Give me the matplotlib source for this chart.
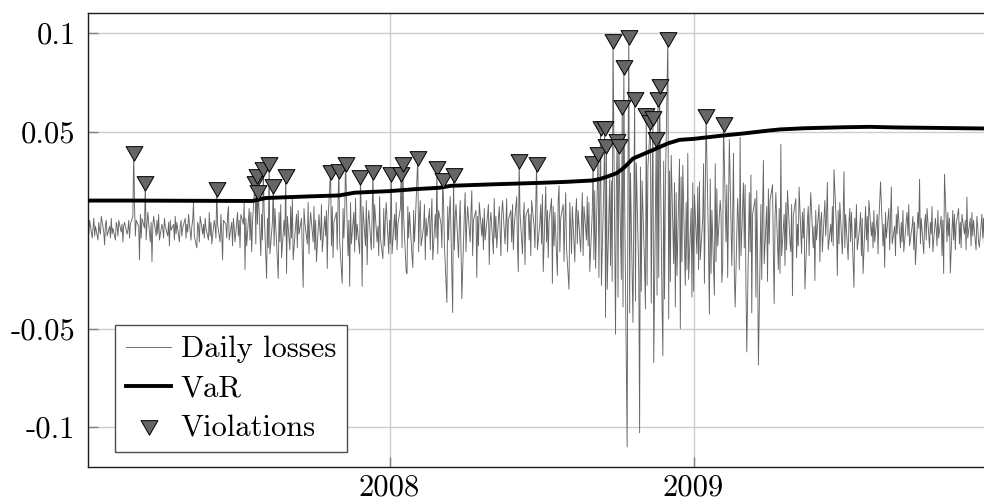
import numpy as np
import pandas as pd
import matplotlib
matplotlib.use("Agg")
import matplotlib.pyplot as plt

# daily losses in percent, one value per business day from 2007-01-03
losses_pct = [
    0.3, -0.2, 0.5, -0.4, 0.1, 0.6, -0.3, 0.2, -0.5, 0.4, 0.0, -0.2, 0.7, -0.1, -0.75, 0.3, 0.5, -0.3, 0.2, -0.4,
    0.6, -0.2, 0.1, -0.5, 0.4, 0.2, -0.3, 0.5, -0.1, 0.3, -0.6, 0.2, 0.4, -0.2, 0.0, 0.5, -0.4, 0.3, 0.7, 4.0,
    1.3, -0.3, 0.5, 0.2, -1.5, 0.8, -0.4, 0.6, 0.1, 2.5, -0.5, 0.3, 0.9, -0.6, 0.4, -1.6, 0.2, 0.7, -0.3, 0.5,
    -0.2, 0.8, -0.5, 0.3, 0.1, -0.4, 0.6, 0.2, -0.3, 0.4, -0.8, 0.5, 0.0, 0.3, -0.5, 0.7, -0.2, 0.4, -0.6, 0.2,
    0.5, -0.3, 0.1, 0.6, -0.4, 0.3, -0.1, 0.8, -0.5, 0.2, 0.5, 1.4, -0.3, -0.9, 0.4, 0.2, -0.6, 0.7, -0.2, 0.3,
    -0.4, 0.6, 0.1, -0.5, 0.9, -0.3, 0.4, -0.7, 0.5, 0.2, -0.4, 2.2, 0.3, -0.6, 0.8, -0.2, -1.5, 0.5, 0.3, -0.4,
    0.7, 1.2, -0.5, 0.4, -0.8, 0.6, 0.1, -0.6, 0.9, -0.3, 0.5, -0.9, 0.8, 0.3, 1.4, -2.0, 0.6, -0.8, 1.1, -0.5,
    0.9, -1.1, 0.4, 2.5, -0.7, 2.86, 0.3, 2.05, -1.3, 0.8, -0.5, 3.2, 1.0, -2.45, 0.6, -0.9, 3.45, -1.2, 0.4, 2.32,
    -0.8, 1.1, 0.2, -2.45, 0.9, -0.6, 1.3, -1.4, 0.5, -0.3, 2.86, -2.2, 0.7, -1.0, 1.2, -0.4, 1.6, -1.5, 0.3, 0.8,
    -0.9, 1.0, -0.2, 0.6, -1.3, -2.9, 1.1, 0.4, -0.7, 1.4, -1.2, 0.2, 0.9, -0.6, 1.2, -1.0, 0.5, -1.6, 0.8, 0.1,
    -0.5, 1.3, -1.1, 0.7, -0.3, 1.0, -1.95, 0.6, 3.03, -0.8, 1.2, -1.4, 0.4, 0.9, -1.0, 1.5, 3.12, -0.6, -2.7, 1.1,
    -0.4, 0.8, 3.45, -1.3, 0.5, -2.85, 1.4, -0.7, 0.9, -1.1, 1.6, -0.5, 0.3, -1.2, 2.78, 0.6, -2.85, 1.2, -0.8, 1.5,
    -1.75, 0.4, 1.0, -1.0, 0.7, 3.03, -0.9, 1.3, -0.6, 0.2, -1.3, 1.7, -0.4, -1.45, 1.1, -0.8, 0.6, 1.4, -1.2, 0.5,
    -0.7, 2.95, -1.2, 0.8, -0.5, 1.4, -1.0, 0.3, 1.1, 2.95, -0.9, 3.45, 0.6, -2.1, -2.2, 1.2, -0.4, 0.9, -1.3, -1.9,
    1.0, -0.6, 0.4, 3.74, -1.1, 0.7, 1.5, -0.8, 0.2, 1.3, -1.5, 0.6, -0.3, 1.1, -1.0, 0.5, 1.6, -1.5, 0.8, -0.4,
    3.23, -1.2, 1.0, 0.3, -0.9, 2.66, 1.4, -0.7, -3.67, 1.2, -0.5, 0.9, 1.7, -4.18, 2.91, -1.0, 0.6, 1.3, -1.4, 0.2,
    1.5, -0.9, -3.48, 0.8, 1.9, -1.1, 0.4, 1.2, -0.6, 0.9, 2.0, -1.3, 0.5, 1.0, -2.4, 0.7, -0.8, 1.4, -0.3, 0.6,
    -1.0, 1.1, -0.5, 0.8, 1.3, -1.75, 0.4, 0.9, -1.2, 1.6, -0.4, 0.7, -0.9, 1.2, 0.1, -1.3, 0.8, 1.5, -0.7, 0.3,
    1.6, -1.1, 0.5, 1.0, -0.6, 1.3, -1.0, 0.2, 1.7, -0.8, -2.1, 3.59, 0.9, -1.2, 0.6, 1.4, -1.75, 0.7, 1.1, -0.5,
    0.8, -1.3, 1.5, 0.2, -0.9, 1.2, 3.45, -1.0, 0.4, 1.3, -0.7, 1.8, -2.1, 2.2, -0.6, 1.0, -1.4, 0.5, 1.6, -2.7,
    1.2, -0.8, 0.9, -2.3, 1.5, 2.25, -1.1, 0.6, 1.3, -1.6, 0.4, 1.9, -0.9, -3.0, 1.4, 0.2, -1.2, 1.2, -1.6, 0.8,
    1.6, -0.7, 1.0, -1.1, 0.5, 1.9, -1.3, 1.2, -0.5, 1.7,
    -0.8, 1.4, -2.1, 0.9, 3.5, -1.5, 2.0, -1.93, 3.96, -2.4, 1.8, 5.27, -2.8, 2.4, 5.27, -4.43, 4.35, -3.0, 2.6, -1.8,
    2.5, -2.6, 9.68, -5.28, 2.2, 4.64, -3.4, 4.39, -2.5, 6.34, -3.9, 8.37, 1.5, -11.0, 3.0, 9.9, -4.2, 2.9, -4.68, 1.2,
    6.76, -3.6, 3.4, -2.2, -10.28, 3.2, -3.1, 2.5, -1.9, -4.0, 5.95, -2.8, 3.2, 5.57, -3.7, 1.6, 5.78, -6.72, 4.73, -3.3,
    6.76, -2.4, 7.4, -3.8, -6.38, 3.5, -3.5, 2.1, 9.81, -4.5, 3.0, -2.6, 3.8, -1.7, 2.4, -3.9, 1.9, -2.3, 3.6, -5.0,
    2.7, -1.6, 3.3, -2.8, 1.4, -2.0, 3.9, -2.5, 1.1, -3.4,
    2.4, -3.1, 1.8, -1.2, 2.2, -2.0, 2.45, -1.5, 0.6, 3.37, -2.7, 1.4, 5.88, -1.0, -4.26, 2.6, -2.2, 1.0, -3.3, 3.37,
    -1.6, 2.1, -0.8, 1.5, 0.9, -2.65, -1.9, 5.49, -0.6, 2.3, -2.4, 1.2, 4.6, -1.8, 0.7, 3.9, -2.2, -3.9, 1.6, 0.4,
    -2.0, 4.7, -1.3, 2.4, -0.9, 2.3, -2.8, -6.18, 1.9, -1.1, 2.8, -4.2, 0.8, 1.6, -3.4, 2.0, -1.5, -6.85, 1.3, -2.5,
    0.9, 3.54, -1.7, 1.2, -2.6, 2.1, -0.7, 1.5, 2.3, -1.2, -3.72, 0.6, 1.9, -2.0, 1.1, -2.2, 4.35, -1.3, 0.8, -1.8,
    1.4, -1.0, 2.0, -0.6, -1.1, 1.3, -3.33, 0.7, 1.6, -1.4, 0.3, -0.8, 2.18, -1.2, 0.9, -0.4, 1.1, -2.99, 0.5, 1.2,
    -1.3, 0.6, 1.9, -0.9, 0.2, -2.56, 1.0, -0.5, 1.3, -1.6, 0.4, 0.9, -1.1, 1.5, -0.3, 0.7, 2.42, -1.0, 0.3, -0.6,
    1.2, -0.8, 3.07, 0.1, -2.3, 1.0, -0.7, 1.4, -1.2, 0.5, 2.97, -0.9, 0.8, -1.5, 0.4, 1.1, -0.6, 0.9, -2.9, 0.6,
    -0.4, 1.3, -1.0, 0.2, 0.9, -1.3, 0.6, -2.2, 1.2, -0.5, 0.7, -1.1, 1.5, -0.3, 0.4, -0.9, 1.0, -0.6, 0.8, -1.2,
    0.5, 1.4, 2.45, -0.8, 0.3, -1.89, 0.9, -0.4, 1.1, -1.0, 0.6, 2.18, -0.7, 0.2, -1.3, 0.8, -0.2, 1.2, -0.9, 0.4,
    -0.6, 1.0, -1.1, 0.5, 0.9, -0.3, 1.3, -0.8, 0.2, 0.7, -1.0, 0.4, -1.75, 0.9, 0.1, 2.58, -0.7, 0.6, -1.2, 0.3,
    0.8, -0.5, 1.1, -0.9, 0.4, -0.2, 1.2, -1.1, 0.6, 0.1, -0.8, 1.0, -0.4, 0.7, -1.3, 0.5, -2.2, 2.83, -0.6, 0.9,
    -0.3, 0.6, -2.17, 1.0, -0.5, 0.8, -1.0, 0.3, 1.1, -0.7, 0.4, -0.9, 0.8, -0.2, 0.5, -1.0, 1.67, -0.4, 0.6, -0.8,
    0.9, -0.3, 0.5, -1.0, 0.7, 0.2, -0.6, -0.87, 0.8, -0.4, 0.6, -0.7, 0.3, 0.5, -0.5, 0.8, -0.2, 0.4, -0.6, 0.7,
    -0.3, 0.5,
]

# positions (business day index) of the VaR violations
violation_idx = [39, 49, 111, 143, 145, 147, 151, 156, 159, 170, 208, 216, 222, 234, 245,
                 261, 269, 271, 283, 300, 305, 314, 371, 386,
                 434, 438, 441, 444, 446, 452, 455, 457, 459, 461, 465, 470, 480, 483, 486,
                 488, 490, 492, 498, 532, 547]

var_dates = ["2007-01-03", "2007-03-01", "2007-05-01", "2007-07-20", "2007-08-05", "2007-10-01",
             "2007-11-01", "2007-11-20", "2008-01-01", "2008-02-01", "2008-03-01", "2008-03-15",
             "2008-05-01", "2008-07-01", "2008-08-01", "2008-09-01", "2008-09-10", "2008-09-20",
             "2008-10-01", "2008-10-10", "2008-10-20", "2008-11-01", "2008-11-15", "2008-12-01",
             "2008-12-15", "2009-01-01", "2009-02-01", "2009-03-01", "2009-04-01", "2009-04-15",
             "2009-05-15", "2009-07-01", "2009-08-01", "2009-09-01", "2009-11-01", "2009-12-31"]
var_values = [0.0150, 0.0150, 0.0149, 0.0148, 0.0163, 0.0172,
              0.0176, 0.0190, 0.0198, 0.0208, 0.0215, 0.0225,
              0.0232, 0.0240, 0.0245, 0.0252, 0.0259, 0.0273,
              0.0290, 0.0320, 0.0363, 0.0385, 0.0410, 0.0440,
              0.0458, 0.0463, 0.0478, 0.0490, 0.0505, 0.0511,
              0.0517, 0.0522, 0.0524, 0.0521, 0.0518, 0.0515]

year_ticks = ["2008-01-01", "2009-01-01"]
year_labels = ["2008", "2009"]
y_ticks = [-0.1, -0.05, 0.05, 0.1]
y_labels = ["-0.1", "-0.05", "0.05", "0.1"]

losses = np.array(losses_pct) / 100.0
dates = pd.bdate_range("2007-01-03", periods=len(losses))

plt.rcParams["font.family"] = ["cmr10", "DejaVu Serif"]
plt.rcParams["axes.unicode_minus"] = False
plt.rcParams["mathtext.fontset"] = "cm"

fig = plt.figure(figsize=(9.84, 5.0), dpi=100)
ax = fig.add_axes([88 / 984, 1 - 466.7 / 500, 908 / 984, 453.4 / 500])

# pgfplots-like equilateral triangle pointing down
tri = [(0, -1), (-0.866, 0.5), (0.866, 0.5), (0, -1)]

ax.plot(dates, losses, color="0.4", lw=0.65, zorder=2, label="Daily losses")
ax.plot(pd.to_datetime(var_dates), var_values, color="black", lw=2.8, zorder=3,
        solid_joinstyle="round", label="VaR")
ax.plot(dates[violation_idx], losses[violation_idx], linestyle="none", marker=tri,
        markersize=14, markerfacecolor="0.4", markeredgecolor="black", markeredgewidth=0.7,
        zorder=4, label="Violations")

ax.set_xlim(dates[0], dates[-1])
ax.set_ylim(-0.12, 0.11)
ax.set_xticks(pd.to_datetime(year_ticks))
ax.set_xticklabels(year_labels)
ax.set_yticks(y_ticks)
ax.set_yticklabels(y_labels)
ax.tick_params(direction="in", length=7, width=1, color="0.5", labelsize=22)
ax.tick_params(axis="y", pad=9)
ax.tick_params(axis="x", pad=5)
ax.grid(True, color="0.8", lw=1)
ax.set_axisbelow(True)

for side in ["left", "bottom", "top"]:
    ax.spines[side].set_linewidth(1.0)
    ax.spines[side].set_color("0.1")
ax.spines["right"].set_visible(False)

leg = ax.legend(loc="lower left", bbox_to_anchor=(0.0297, 0.0324), fontsize=22,
                fancybox=False, framealpha=1, edgecolor="0.3", handlelength=1.5,
                handletextpad=0.3, labelspacing=0.38, borderpad=0.35, borderaxespad=0)
leg.get_frame().set_linewidth(1.0)

fig.savefig("out.png", dpi=100)
